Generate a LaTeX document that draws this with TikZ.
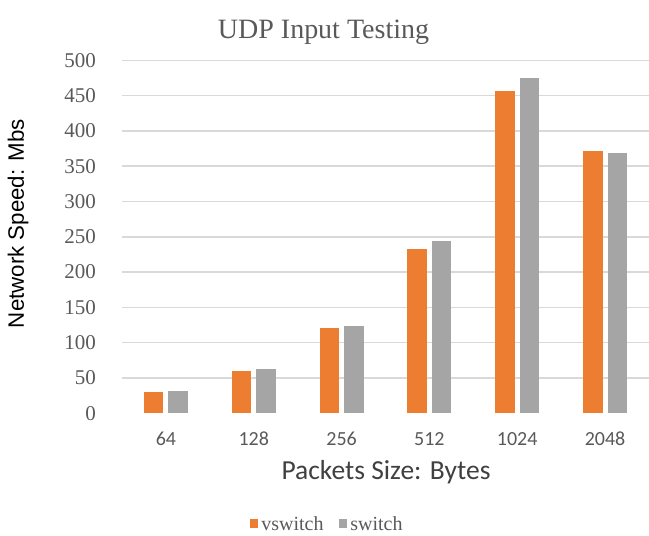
\documentclass[tikz,border=0pt]{standalone}
\usepackage{fontspec}
\setmainfont{Liberation Serif}
\newfontfamily\calibrifont{Carlito}
\newfontfamily\arialfont{Liberation Sans}
\usetikzlibrary{positioning}
\definecolor{vorange}{HTML}{ED7D31}
\definecolor{sgray}{HTML}{A5A5A5}
\definecolor{gridgray}{HTML}{D9D9D9}
\definecolor{textgray}{HTML}{595959}
\definecolor{titlegray}{HTML}{404040}
\tikzstyle{grid}=[draw=gridgray,line width=1.5pt]
\tikzstyle{axisline}=[draw=gridgray!120!black!90,line width=1.8pt]
\tikzstyle{ytick}=[anchor=east,inner sep=0pt,text=textgray,font=\fontsize{21}{22}\selectfont]
\tikzstyle{xtick}=[inner sep=0pt,text=textgray,font=\calibrifont\fontsize{20}{22}\selectfont]
\tikzstyle{key}=[rectangle,inner sep=0pt,minimum width=8pt,minimum height=9pt]
\tikzstyle{keytext}=[inner sep=0pt,text=textgray,font=\fontsize{20}{22}\selectfont]

\begin{document}
\begin{tikzpicture}[x=1pt,y=1pt]
            \useasboundingbox (0,0) rectangle (649,536);
            \node (title)[anchor=base,text=textgray,font=\fontsize{28}{30}\selectfont] at (323.5,497){UDP Input Testing};
            \begin{scope}[shift={(0,122.7)},y=0.706pt]
                \foreach \v in {50,100,...,500}
                    \draw [grid] (122,\v) -- (649,\v);
                \draw [axisline] (122,0) -- (649,0);
                \foreach \v in {0,50,...,500}
                    \node (y\v)[ytick] at (96,\v){\v};
                \foreach \lab/\vs/\s [count=\n from 0] in {64/30/32,128/60/63,256/121/124,512/233/244,1024/456/475,2048/372/369}{
                    \pgfmathsetmacro\cx{122+87.83*(\n+0.5)}
                    \fill [vorange] (\cx-22,0) rectangle (\cx-2.5,\vs);
                    \fill [sgray] (\cx+2.5,0) rectangle (\cx+22,\s);
                    \node (x\lab)[xtick] at (\cx,-36.4){\lab};
                }
            \end{scope}
            \node (xtitle)[anchor=base,text=titlegray,font=\calibrifont\fontsize{27.5}{29}\selectfont] at (386,56){Packets Size: Bytes};
            \node (ytitle)[rotate=90,font=\arialfont\fontsize{22.3}{24}\selectfont] at (18,312.5){Network Speed: Mbs};
            \node (keyv)[key,fill=vorange] at (254,12){};
            \node (labv)[keytext,anchor=west,right=3pt of keyv.east]{vswitch};
            \node (keys)[key,fill=sgray] at (343,12){};
            \node (labs)[keytext,anchor=west,right=3pt of keys.east]{switch};
        \end{tikzpicture}
\end{document}
